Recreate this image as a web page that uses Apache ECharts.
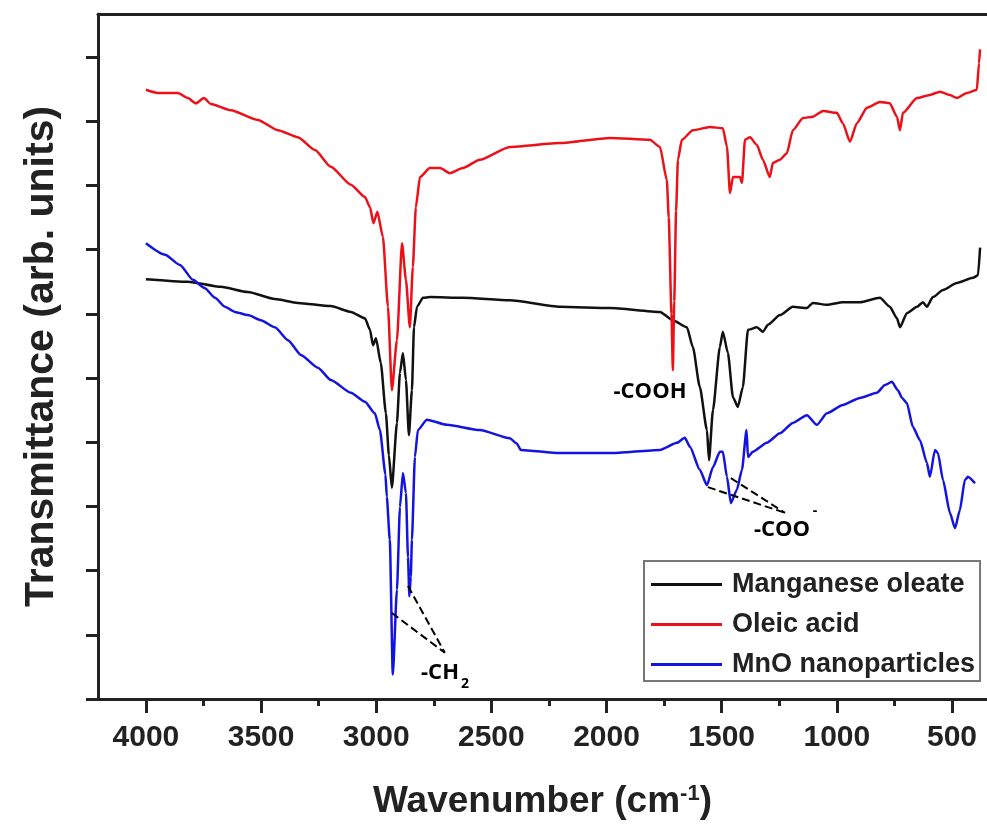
<!DOCTYPE html>
<html>
<head>
<meta charset="utf-8">
<title>FTIR spectra</title>
<script src="https://cdn.jsdelivr.net/npm/echarts@6/dist/echarts.min.js"></script>
<style>
  html, body { margin: 0; padding: 0; background: #fff; }
  #chart { width: 987px; height: 824px; }
</style>
</head>
<body>
<div id="chart"></div>
<script>
// axis ticks (wavenumber, cm-1)
const majorTicks = [4000, 3500, 3000, 2500, 2000, 1500, 1000, 500];
const minorTicks = [3750, 3250, 2750, 2250, 1750, 1250, 750];
const yTicks = [0, 1, 2, 3, 4, 5, 6, 7, 8, 9, 10];

// Manganese oleate (black)
const oleateWn = [4000, 3818, 3674, 3557, 3440, 3340, 3197, 3110, 3049, 3027, 3014, 3001, 2980, 2958, 2945, 2932,
  2910, 2897, 2884, 2871, 2858, 2845, 2836, 2823, 2797, 2767, 2624, 2420, 2202, 1985, 1768, 1712, 1651, 1625,
  1595, 1564, 1555, 1538, 1508, 1495, 1473, 1451, 1430, 1408, 1386, 1347, 1321, 1299, 1247, 1191, 1130, 1104,
  1043, 974, 900, 813, 770, 739, 726, 696, 652, 626, 609, 583, 539, 479, 409, 387, 378];
const oleateT = [6.54, 6.50, 6.42, 6.34, 6.23, 6.17, 6.12, 6.03, 5.93, 5.75, 5.51, 5.62, 5.23, 4.45, 3.80, 3.29,
  4.30, 5.08, 5.39, 4.97, 4.11, 4.81, 5.79, 6.11, 6.25, 6.26, 6.25, 6.21, 6.11, 6.09, 6.03, 5.90, 5.79, 5.48,
  4.86, 4.19, 3.72, 4.50, 5.48, 5.72, 5.39, 4.70, 4.55, 4.86, 5.75, 5.79, 5.72, 5.83, 5.98, 6.11, 6.09, 6.17,
  6.14, 6.18, 6.18, 6.25, 6.11, 5.93, 5.79, 6.01, 6.11, 6.18, 6.11, 6.26, 6.37, 6.48, 6.56, 6.60, 7.03];

// Oleic acid (red)
const oleicWn = [4000, 3948, 3861, 3818, 3783, 3748, 3718, 3631, 3514, 3427, 3340, 3266, 3197, 3110, 3049, 3027,
  3012, 2995, 2971, 2949, 2932, 2910, 2888, 2871, 2854, 2841, 2828, 2810, 2767, 2723, 2680, 2624, 2550, 2420,
  2202, 1985, 1812, 1768, 1738, 1730, 1718, 1712, 1706, 1698, 1690, 1673, 1625, 1551, 1495, 1477, 1464, 1451,
  1421, 1412, 1399, 1377, 1347, 1321, 1291, 1278, 1247, 1217, 1191, 1147, 1104, 1060, 1000, 974, 943, 913, 869,
  813, 770, 739, 726, 713, 652, 596, 552, 509, 479, 435, 392, 383, 378];
const oleicT = [9.49, 9.44, 9.44, 9.36, 9.28, 9.36, 9.27, 9.17, 9.02, 8.86, 8.75, 8.55, 8.29, 8.01, 7.82, 7.66,
  7.41, 7.59, 7.20, 6.11, 4.81, 5.59, 7.10, 6.53, 5.79, 6.73, 7.66, 8.13, 8.27, 8.27, 8.19, 8.27, 8.40, 8.60,
  8.66, 8.74, 8.71, 8.60, 8.08, 7.50, 6.00, 5.12, 6.20, 7.60, 8.40, 8.71, 8.86, 8.91, 8.89, 8.60, 7.88, 8.13,
  8.13, 8.04, 8.71, 8.75, 8.63, 8.40, 8.13, 8.35, 8.40, 8.50, 8.86, 9.05, 9.07, 9.16, 9.13, 8.97, 8.68, 8.97, 9.21,
  9.30, 9.28, 9.07, 8.86, 9.13, 9.36, 9.41, 9.46, 9.41, 9.36, 9.44, 9.49, 9.90, 10.12];

// MnO nanoparticles (blue)
const mnoWn = [4000, 3917, 3852, 3796, 3744, 3700, 3657, 3614, 3557, 3501, 3440, 3383, 3327, 3253, 3197, 3110,
  3049, 3006, 2984, 2960, 2954, 2941, 2928, 2910, 2897, 2884, 2871, 2862, 2856, 2850, 2845, 2832, 2819, 2780,
  2693, 2550, 2420, 2390, 2372, 2202, 1985, 1768, 1694, 1660, 1638, 1595, 1564, 1538, 1508, 1495, 1477, 1460, 1434,
  1412, 1392, 1386, 1365, 1304, 1247, 1191, 1130, 1087, 1043, 974, 900, 826, 791, 761, 735, 717, 696, 670, 639,
  609, 596, 574, 561, 539, 509, 487, 466, 444, 431, 400];
const mnoT = [7.10, 6.92, 6.76, 6.53, 6.40, 6.25, 6.11, 6.03, 5.98, 5.90, 5.79, 5.59, 5.36, 5.16, 4.97, 4.77,
  4.63, 4.45, 4.19, 3.50, 3.15, 2.48, 0.38, 1.70, 2.99, 3.52, 3.21, 2.21, 1.60, 1.90, 2.48, 3.77, 4.19, 4.35,
  4.27, 4.19, 4.06, 3.98, 3.88, 3.83, 3.83, 3.88, 3.99, 4.07, 3.93, 3.57, 3.33, 3.61, 3.85, 3.85, 3.46, 3.05, 3.26,
  3.57, 4.19, 3.77, 3.85, 3.99, 4.14, 4.30, 4.42, 4.27, 4.45, 4.58, 4.69, 4.77, 4.89, 4.94, 4.81, 4.69, 4.61, 4.24, 4.03,
  3.68, 3.46, 3.88, 3.83, 3.41, 2.90, 2.66, 2.94, 3.41, 3.46, 3.36];

// dashed pointer lines for the band labels [from, to]
const ch2Lines = [[[2932, 1.34], [2702, 0.72]], [[2862, 1.76], [2702, 0.72]]];
const cooLines = [[[1560, 3.30], [1225, 2.90]], [[1460, 3.44], [1225, 2.90]]];

const X_MIN = 348;
const X_MAX = 4208;
const AXIS_COLOR = "#222";
const FONT = "'Liberation Sans', Arial, sans-serif";
const NOTE_FONT = "'Open Sans', sans-serif";

const zip = (xs, ys) => xs.map((x, i) => [x, ys[i]]);
const toMarkLine = (pairs) => pairs.map((p) => [{ coord: p[0] }, { coord: p[1] }]);

const chart = echarts.init(document.getElementById("chart"), null, { renderer: "canvas" });

const axisLine = { show: true, onZero: false, lineStyle: { color: AXIS_COLOR, width: 3 } };
const baseX = { type: "value", min: X_MIN, max: X_MAX, inverse: true, splitLine: { show: false } };

const spectrum = (name, xs, ys, color, z) => ({
  name,
  type: "line",
  data: zip(xs, ys),
  showSymbol: false,
  symbol: "none",
  smooth: 0.2,
  smoothMonotone: "x",
  color,
  lineStyle: { width: 2.5 },
  z,
});

const option = {
  animation: false,
  backgroundColor: "#fff",
  grid: { left: 98, right: 0, top: 14, bottom: 125, outerBoundsMode: "none" },
  xAxis: [
    {
      ...baseX,
      position: "bottom",
      axisLine,
      axisTick: { show: true, customValues: majorTicks, length: 14, lineStyle: { color: AXIS_COLOR, width: 3 } },
      axisLabel: {
        customValues: majorTicks,
        formatter: (v) => String(v),
        margin: 24,
        fontSize: 30,
        fontWeight: "bold",
        fontFamily: FONT,
        color: AXIS_COLOR,
      },
      name: "Wavenumber (cm{sup|-1})",
      nameLocation: "middle",
      nameGap: 84,
      nameTextStyle: {
        fontSize: 37,
        fontWeight: "bold",
        fontFamily: FONT,
        color: AXIS_COLOR,
        rich: {
          sup: { fontSize: 22, fontWeight: "bold", fontFamily: FONT, color: AXIS_COLOR, verticalAlign: "top" },
        },
      },
    },
    {
      // minor ticks
      ...baseX,
      position: "bottom",
      axisLine: { show: false },
      axisTick: { show: true, customValues: minorTicks, length: 7, lineStyle: { color: AXIS_COLOR, width: 3 } },
      axisLabel: { show: false },
    },
    {
      // top frame line
      ...baseX,
      position: "top",
      axisLine,
      axisTick: { show: false },
      axisLabel: { show: false },
    },
  ],
  yAxis: {
    type: "value",
    min: 0,
    max: 10.67,
    axisLine,
    axisTick: { show: true, customValues: yTicks, length: 12, lineStyle: { color: AXIS_COLOR, width: 3 } },
    axisLabel: { show: false },
    splitLine: { show: false },
    name: "Transmittance (arb. units)",
    nameLocation: "middle",
    nameGap: 36,
    nameTextStyle: { fontSize: 41, fontWeight: "bold", fontFamily: FONT, color: AXIS_COLOR },
  },
  legend: {
    data: ["Manganese oleate", "Oleic acid", "MnO nanoparticles"],
    orient: "vertical",
    left: 644,
    top: 561,
    icon: "rect",
    itemWidth: 71,
    itemHeight: 3,
    itemGap: 13,
    padding: [10, 5, 3, 7],
    borderColor: "#777",
    borderWidth: 2,
    borderRadius: 0,
    textStyle: {
      fontSize: 27,
      fontWeight: "bold",
      fontFamily: FONT,
      color: AXIS_COLOR,
      lineHeight: 25,
      padding: [0, 0, 0, 5],
    },
  },
  series: [
    {
      ...spectrum("Manganese oleate", oleateWn, oleateT, "#111", 2),
      markLine: {
        silent: true,
        symbol: "none",
        label: { show: false },
        lineStyle: { type: "dashed", color: "#000", width: 2 },
        data: toMarkLine(ch2Lines.concat(cooLines)),
      },
    },
    spectrum("MnO nanoparticles", mnoWn, mnoT, "#1414e0", 3),
    spectrum("Oleic acid", oleicWn, oleicT, "#ec1119", 4),
  ],
  graphic: [
    { type: "text", x: 650, y: 392, style: { text: "-COOH", fontSize: 22, fontWeight: "bold", fontFamily: NOTE_FONT, fill: "#000", align: "center", verticalAlign: "middle" } },
    { type: "text", x: 782, y: 530, style: { text: "-COO", fontSize: 22, fontWeight: "bold", fontFamily: NOTE_FONT, fill: "#000", align: "center", verticalAlign: "middle" } },
    { type: "text", x: 815, y: 511, style: { text: "-", fontSize: 14, fontWeight: "bold", fontFamily: NOTE_FONT, fill: "#000", align: "center", verticalAlign: "middle" } },
    { type: "text", x: 440, y: 673, style: { text: "-CH", fontSize: 22, fontWeight: "bold", fontFamily: NOTE_FONT, fill: "#000", align: "center", verticalAlign: "middle" } },
    { type: "text", x: 465, y: 684, style: { text: "2", fontSize: 14, fontWeight: "bold", fontFamily: NOTE_FONT, fill: "#000", align: "center", verticalAlign: "middle" } },
  ],
};

chart.setOption(option);
</script>
</body>
</html>
